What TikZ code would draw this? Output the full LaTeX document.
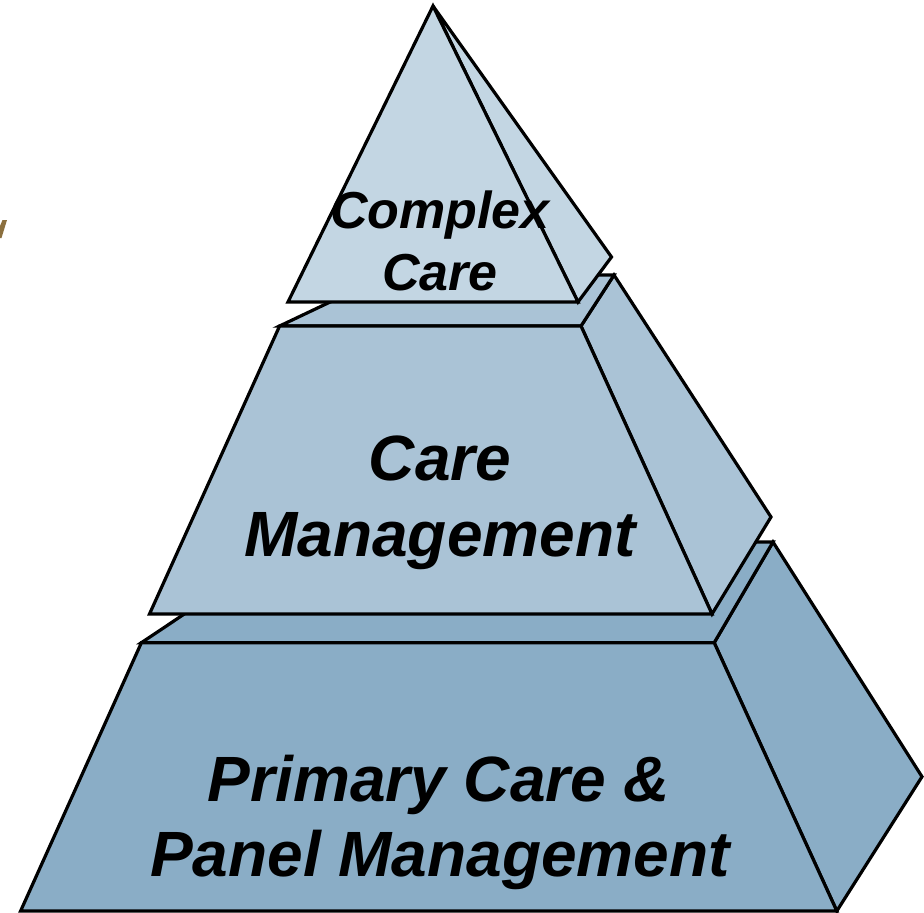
\documentclass[tikz,border=0pt]{standalone}
\usepackage{fontspec}
\setmainfont{Liberation Sans}
\begin{document}
\begin{tikzpicture}[x=1pt,y=-1pt,
  face/.style={draw=black,line width=3.2pt,line join=miter},
  lvltop/.style={face,fill=toptone},
  lvlmid/.style={face,fill=midtone},
  lvlbase/.style={face,fill=basetone},
  smalltext/.style={font=\fontsize{52}{62}\selectfont\bfseries\itshape,inner sep=0pt,anchor=base},
  bigtext/.style={font=\fontsize{64}{76}\selectfont\bfseries\itshape,inner sep=0pt,anchor=base}]
\definecolor{toptone}{HTML}{C3D6E3}
\definecolor{midtone}{HTML}{AAC3D6}
\definecolor{basetone}{HTML}{8AADC6}
\definecolor{markbrown}{HTML}{8B6F3E}
\useasboundingbox (0,0) rectangle (924,913);

% stray brown stroke at the left edge
\fill[markbrown] (2.5,220) -- (7,220) -- (1.5,238) -- (0,238) -- (0,226) -- cycle;

% base tier: Primary Care & Panel Management
\coordinate (bFL) at (20.6,911);
\coordinate (bTL) at (141.4,642.7);
\coordinate (bTR) at (714.2,642.7);
\coordinate (bFR) at (836.8,911);
\coordinate (bBL) at (292,542);
\coordinate (bBR) at (773,542);
\coordinate (bSide) at (922,776.7);
\draw[lvlbase] (bTR) -- (bBR) -- (bSide) -- (bFR) -- cycle;
\draw[lvlbase] (bTL) -- (bBL) -- (bBR) -- (bTR) -- cycle;
\draw[lvlbase] (bFL) -- (bTL) -- (bTR) -- (bFR) -- cycle;

% middle tier: Care Management
\coordinate (mFL) at (149.5,614);
\coordinate (mTL) at (279.6,326);
\coordinate (mTR) at (581,326);
\coordinate (mFR) at (712,614);
\coordinate (mBL) at (387,275);
\coordinate (mBR) at (614,275);
\coordinate (mSide) at (771,517);
\draw[lvlmid] (mTR) -- (mBR) -- (mSide) -- (mFR) -- cycle;
\draw[lvlmid] (mTL) -- (mBL) -- (mBR) -- (mTR) -- cycle;
\draw[lvlmid] (mFL) -- (mTL) -- (mTR) -- (mFR) -- cycle;

% top pyramid: Complex Care
\coordinate (apex) at (433,6);
\coordinate (tL) at (288,302);
\coordinate (tR) at (578,302);
\coordinate (tSide) at (611.5,257);
\draw[lvltop] (apex) -- (tSide) -- (tR) -- cycle;
\draw[lvltop] (tL) -- (apex) -- (tR) -- cycle;

% labels
\node[smalltext] (cc1) at (440,228) {Complex};
\node[smalltext] (cc2) at (440,290) {Care};
\node[bigtext] (cm1) at (440,480) {Care};
\node[bigtext] (cm2) at (440,556.5) {Management};
\node[bigtext] (pc1) at (439,801.5) {Primary Care \&};
\node[bigtext] (pc2) at (440,876.5) {Panel Management};
\end{tikzpicture}
\end{document}
